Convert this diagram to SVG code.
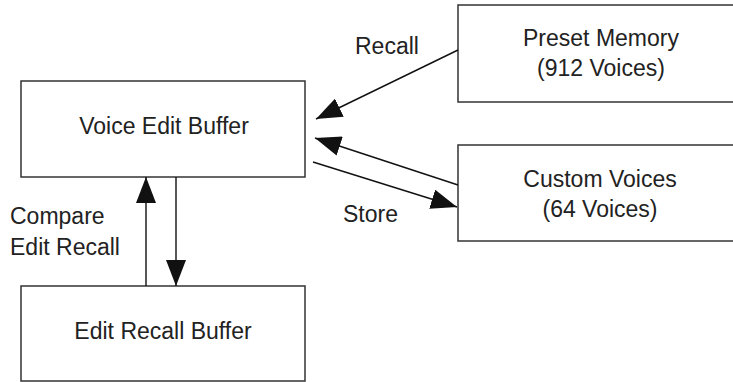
<svg xmlns="http://www.w3.org/2000/svg" width="733" height="382" viewBox="0 0 733 382">
<style>
.box{fill:#fff;stroke:#333;stroke-width:1.5}
.t{font-family:"Liberation Sans",Arial,sans-serif;font-size:23px;fill:#222}
.c{text-anchor:middle}
.ln{stroke:#111;stroke-width:1.4;fill:none;marker-end:url(#ah)}
</style>
<defs>
<marker id="ah" markerUnits="userSpaceOnUse" markerWidth="26" markerHeight="20" refX="26" refY="10" orient="auto" viewBox="0 0 26 20">
<path d="M0,0 L26,10 L0,20 Z" fill="#111"/>
</marker>
</defs>
<rect width="733" height="382" fill="#fff"/>
<g id="voice-edit-buffer">
<rect class="box" x="21" y="81" width="284" height="96"/>
<text class="t c" x="164" y="134">Voice Edit Buffer</text>
</g>
<g id="edit-recall-buffer">
<rect class="box" x="21" y="286" width="284" height="95"/>
<text class="t c" x="163" y="339">Edit Recall Buffer</text>
</g>
<g id="preset-memory">
<rect class="box" x="458" y="5" width="290" height="97"/>
<text class="t c" x="601" y="46">Preset Memory</text>
<text class="t c" x="601" y="76">(912 Voices)</text>
</g>
<g id="custom-voices">
<rect class="box" x="458" y="145" width="290" height="96"/>
<text class="t c" x="600" y="187">Custom Voices</text>
<text class="t c" x="600" y="217">(64 Voices)</text>
</g>
<g id="connectors">
<line class="ln" x1="458" y1="50" x2="316" y2="119"/>
<line class="ln" x1="458" y1="185" x2="315" y2="138"/>
<line class="ln" x1="313" y1="162" x2="457" y2="207"/>
<line class="ln" x1="146" y1="286" x2="146" y2="177"/>
<line class="ln" x1="176" y1="177" x2="176" y2="286"/>
<text class="t" x="355" y="54">Recall</text>
<text class="t" x="343" y="222">Store</text>
<text class="t" x="10" y="224">Compare</text>
<text class="t" x="10" y="255">Edit Recall</text>
</g>
</svg>
